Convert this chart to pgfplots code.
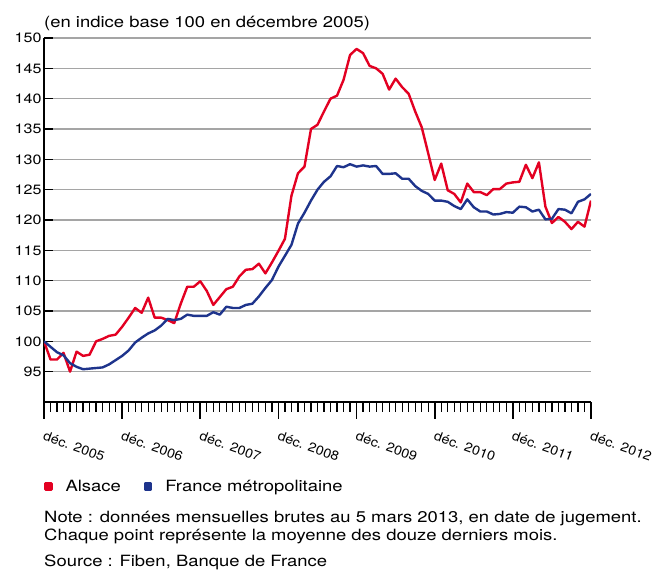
\documentclass[border=0pt]{standalone}
\usepackage{pgfplots}
\pgfplotsset{compat=1.18}
\usepackage{fontspec}
\setmainfont{TeX Gyre Heros}
\newfontfamily\wide{TeX Gyre Heros}[FakeStretch=1.19]
\newfontfamily\tickfont{TeX Gyre Heros}[FakeStretch=1.1]
\definecolor{alsred}{RGB}{227,0,34}
\definecolor{frblue}{RGB}{30,52,140}
\definecolor{gridgray}{RGB}{165,165,165}
\pgfplotstableread{
i alsace france
0 100.0 100.0
1 97.0 99.1
2 97.0 98.2
3 98.1 97.7
4 95.0 96.4
5 98.3 95.8
6 97.6 95.4
7 97.8 95.5
8 100.0 95.6
9 100.4 95.7
10 100.9 96.2
11 101.1 96.9
12 102.4 97.6
13 103.9 98.5
14 105.5 99.8
15 104.7 100.6
16 107.2 101.3
17 103.9 101.8
18 103.9 102.6
19 103.5 103.7
20 103.0 103.5
21 106.2 103.7
22 109.0 104.4
23 109.0 104.2
24 109.9 104.2
25 108.3 104.2
26 106.0 104.8
27 107.3 104.4
28 108.6 105.7
29 109.0 105.5
30 110.7 105.5
31 111.8 106.0
32 111.9 106.2
33 112.8 107.4
34 111.2 108.8
35 113.0 110.1
36 114.9 112.3
37 116.9 114.1
38 124.0 115.9
39 127.7 119.4
40 128.8 121.2
41 135.0 123.2
42 135.7 125.0
43 137.9 126.3
44 140.0 127.2
45 140.5 128.9
46 143.1 128.7
47 147.2 129.2
48 148.2 128.8
49 147.5 129.0
50 145.4 128.8
51 145.0 128.9
52 144.1 127.6
53 141.5 127.6
54 143.3 127.7
55 141.9 126.8
56 140.8 126.8
57 137.9 125.6
58 135.3 124.8
59 131.0 124.3
60 126.6 123.2
61 129.3 123.2
62 124.9 123.0
63 124.3 122.3
64 122.9 121.8
65 126.0 123.4
66 124.6 122.1
67 124.6 121.4
68 124.1 121.4
69 125.1 120.9
70 125.1 121.0
71 126.0 121.3
72 126.2 121.2
73 126.3 122.2
74 129.1 122.1
75 126.9 121.4
76 129.5 121.7
77 122.2 120.1
78 119.5 120.2
79 120.5 121.8
80 119.7 121.7
81 118.5 121.1
82 119.7 123.0
83 118.9 123.4
84 123.2 124.3
}\datatable
\begin{document}
\begin{tikzpicture}
\path[use as bounding box] (0,0) rectangle (656pt,572pt);
\begin{axis}[
  at={(44pt,170pt)}, anchor=south west,
  scale only axis, width=547pt, height=364pt,
  xmin=0, xmax=84, ymin=90, ymax=150,
  axis x line*=bottom, axis y line*=left,
  axis line style={line width=1.6pt, black, -},
  xtick=\empty,
  ytick={95,100,...,150},
  ymajorgrids, grid style={line width=1.1pt, gridgray},
  tick align=inside, major tick length=9pt,
  y tick style={line width=1.6pt, black},
  yticklabel style={font=\wide\fontsize{13.5}{15}\selectfont, /pgf/number format/assume math mode=true, xshift=1pt},
  legend columns=2,
  legend style={at={(axis description cs:0,0)}, anchor=north west, yshift=-78pt,
    draw=none, fill=none, inner sep=0pt, font=\wide\fontsize{15.5}{18}\selectfont,
    nodes={inner sep=0pt},
    /tikz/every odd column/.append style={column sep=13pt},
    /tikz/every even column/.append style={column sep=23pt}},
  legend image code/.code={\fill[#1] (0pt,-3pt) rectangle (6pt,3pt);},
]
\addplot[color=alsred, line width=2.4pt, line join=round] table[x=i, y=alsace] {\datatable};
\addlegendentry{Alsace}
\addplot[color=frblue, line width=2.4pt, line join=round] table[x=i, y=france] {\datatable};
\addlegendentry{France métropolitaine}
\end{axis}
\begin{axis}[
  at={(44pt,170pt)}, anchor=south west,
  scale only axis, width=547pt, height=364pt,
  xmin=0, xmax=84, ymin=90, ymax=150,
  axis x line*=bottom, axis y line=none,
  axis line style={line width=1.6pt, black, -},
  ytick=\empty,
  xtick={0,12,...,84},
  xticklabels={déc. 2005,déc. 2006,déc. 2007,déc. 2008,déc. 2009,déc. 2010,déc. 2011,déc. 2012},
  minor x tick num=11,
  tick align=outside, major tick length=17pt, minor tick length=10pt,
  major x tick style={line width=1.6pt, black},
  minor x tick style={line width=1.2pt, black},
  xticklabel style={font=\tickfont\fontsize{13}{15}\selectfont, rotate=-20, anchor=north west, xshift=2pt, yshift=-7pt},
]
\end{axis}
\node[anchor=base west, inner sep=0pt, font=\wide\fontsize{15.5}{18}\selectfont] at (44pt,544pt) {(en indice base 100 en décembre 2005)};
\node[anchor=base west, inner sep=0pt, font=\wide\fontsize{15.5}{18}\selectfont] at (44pt,49pt) {Note : données mensuelles brutes au 5 mars 2013, en date de jugement.};
\node[anchor=base west, inner sep=0pt, font=\wide\fontsize{15.5}{18}\selectfont] at (44pt,31pt) {Chaque point représente la moyenne des douze derniers mois.};
\node[anchor=base west, inner sep=0pt, font=\wide\fontsize{15.5}{18}\selectfont] at (44pt,5pt) {Source : Fiben, Banque de France};
\end{tikzpicture}
\end{document}
